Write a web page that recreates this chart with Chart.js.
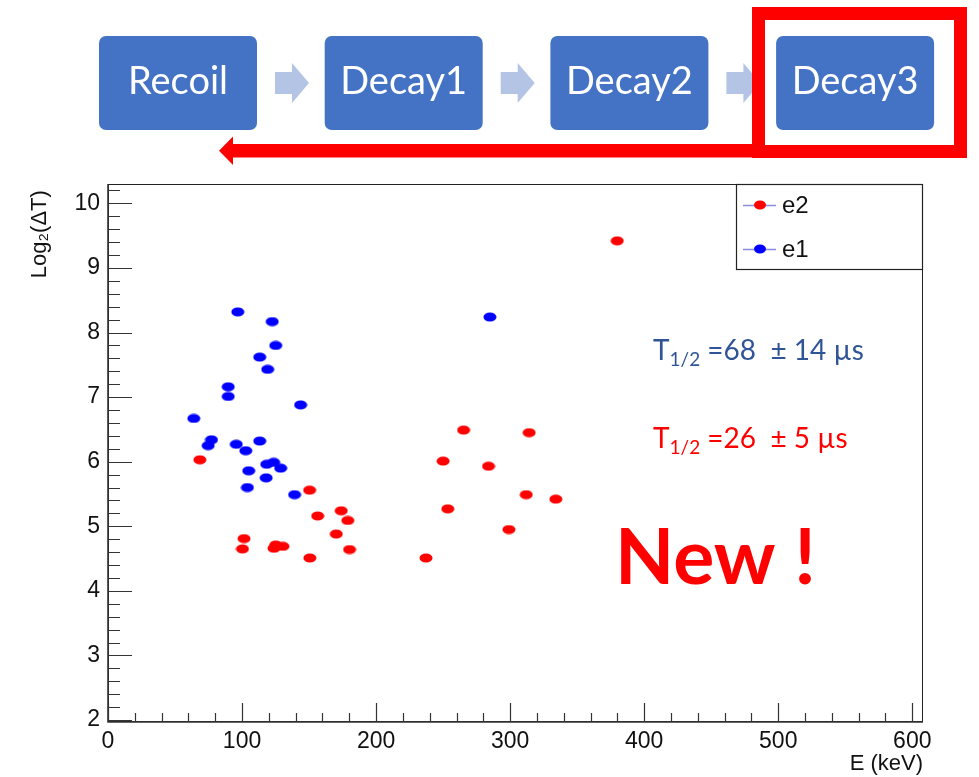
<!DOCTYPE html>
<html>
<head>
<meta charset="utf-8">
<script src="https://cdn.jsdelivr.net/npm/chart.js@4/dist/chart.umd.min.js"></script>
<style>
  html, body { margin: 0; padding: 0; background: #fff; }
  #wrap { position: relative; width: 979px; height: 777px; overflow: hidden; }
  #chart { position: absolute; left: 0; top: 0; }
  #diagram { position: absolute; left: 0; top: 0; }
</style>
</head>
<body>
<div id="wrap">
  <canvas id="chart" width="979" height="777"></canvas>
  <svg id="diagram" width="979" height="175" xmlns="http://www.w3.org/2000/svg"></svg>
</div>
<script>
// ---------------- data ----------------
const stepLabels = ['Recoil', 'Decay1', 'Decay2', 'Decay3'];

const xTicks = [0, 100, 200, 300, 400, 500, 600];
const yTicks = [2, 3, 4, 5, 6, 7, 8, 9, 10];

const e1Label = 'e1';
const e1X = [96.8, 122.5, 125.1, 113.2, 119.1, 89.7, 89.7, 143.7, 64.0, 77.2, 74.7, 95.7, 113.2, 102.8, 118.4, 123.6, 128.8, 105.0, 118.0, 104.0, 139.2, 284.9];
const e1Y = [8.32, 8.17, 7.80, 7.62, 7.43, 7.16, 7.01, 6.88, 6.67, 6.34, 6.25, 6.27, 6.32, 6.17, 5.96, 5.99, 5.90, 5.86, 5.75, 5.60, 5.49, 8.24];

const e2Label = 'e2';
const e2X = [379.9, 265.3, 314.2, 250.0, 283.9, 312.0, 334.1, 253.5, 299.1, 237.2, 68.5, 150.4, 156.4, 174.0, 178.9, 170.3, 101.5, 100.3, 125.1, 130.5, 123.8, 180.2, 150.6];
const e2Y = [9.42, 6.49, 6.45, 6.01, 5.93, 5.49, 5.42, 5.27, 4.95, 4.51, 6.03, 5.56, 5.16, 5.24, 5.09, 4.88, 4.81, 4.65, 4.71, 4.69, 4.66, 4.64, 4.51];

const halfLifeE1 = ['T', '1/2', ' =68  \u00B1 14 \u00B5s'];
const halfLifeE2 = ['T', '1/2', ' =26  \u00B1 5 \u00B5s'];
const newText = 'New !';

const xTitle = 'E (keV)';
const yTitle = 'Log\u2082(\u0394T) ';

// ---------------- diagram (SVG) ----------------
(function buildDiagram() {
  const svg = document.getElementById('diagram');
  const NS = 'http://www.w3.org/2000/svg';
  function el(name, attrs, text) {
    const e = document.createElementNS(NS, name);
    for (const k in attrs) e.setAttribute(k, attrs[k]);
    if (text !== undefined) e.textContent = text;
    svg.appendChild(e);
    return e;
  }
  const x0 = 99, step = 225.7, bw = 158, by = 36, bh = 94;
  // light arrows
  for (let i = 0; i < 3; i++) {
    const ax = x0 + bw + 18 + i * step;
    el('polygon', {
      points: [[ax, 72], [ax + 17, 72], [ax + 17, 63], [ax + 34, 83], [ax + 17, 103], [ax + 17, 94], [ax, 94]].map(p => p.join(',')).join(' '),
      fill: '#B4C4E4'
    });
  }
  stepLabels.forEach((lab, i) => {
    const bx = x0 + i * step;
    el('rect', { x: bx, y: by, width: bw, height: bh, rx: 7, ry: 7, fill: '#4472C4' });
    el('text', {
      x: bx + bw / 2, y: 94, 'text-anchor': 'middle', fill: '#fff',
      'font-family': 'Lato, "Open Sans", sans-serif', 'font-size': 38
    }, lab);
  });
  // red highlight box
  el('rect', { x: 758.5, y: 13.5, width: 202, height: 138, fill: 'none', stroke: '#FF0000', 'stroke-width': 13 });
  // red return arrow
  el('rect', { x: 232, y: 144, width: 528, height: 13.5, fill: '#FF0000' });
  el('polygon', { points: '219,150.7 233,136.5 233,165', fill: '#FF0000' });
})();

// ---------------- chart ----------------
function ellipseMarker(color, w, h) {
  const c = document.createElement('canvas');
  c.width = w; c.height = h;
  const g = c.getContext('2d');
  g.fillStyle = color;
  g.beginPath();
  g.ellipse(w / 2, h / 2, w / 2 - 0.5, h / 2 - 0.5, 0, 0, Math.PI * 2);
  g.fill();
  return c;
}

const RED = '#FF0000';
const BLUE = '#0000FF';
const redDot = ellipseMarker(RED, 14, 10);
const blueDot = ellipseMarker(BLUE, 14, 10);

const toPoints = (xs, ys) => xs.map((x, i) => ({ x: x, y: ys[i] }));

const AX_FONT = 'Liberation Sans, Arial, sans-serif';

const rootFrame = {
  id: 'rootFrame',
  beforeDatasetsDraw(chart) {
    const { ctx, chartArea: a, scales } = chart;
    const xs = scales.x, ys = scales.y;
    ctx.save();
    ctx.strokeStyle = '#222';
    ctx.lineWidth = 1;
    ctx.strokeRect(a.left + 0.5, a.top + 0.5, a.right - a.left - 1, a.bottom - a.top - 1);
    ctx.lineWidth = 1.6;
    ctx.strokeStyle = '#333';
    ctx.beginPath();
    ctx.moveTo(a.left, a.top); ctx.lineTo(a.left, a.bottom); ctx.lineTo(a.right, a.bottom);
    ctx.stroke();
    ctx.lineWidth = 1.2;
    ctx.beginPath();
    // x ticks (inward from bottom)
    for (let v = 0; v <= 600 + 1e-6; v += 20) {
      const px = Math.round(xs.getPixelForValue(v)) + 0.5;
      const major = Math.abs(v % 100) < 1e-6;
      const len = major ? 19 : 9;
      ctx.moveTo(px, a.bottom); ctx.lineTo(px, a.bottom - len);
    }
    // y ticks (inward from left)
    for (let k = 0; k <= 41; k++) {
      const v = 2 + k * 0.2;
      const py = Math.round(ys.getPixelForValue(v)) + 0.5;
      const major = k % 5 === 0;
      const len = major ? 24 : 12;
      ctx.moveTo(a.left, py); ctx.lineTo(a.left + len, py);
    }
    ctx.stroke();
    ctx.restore();
  },
  afterDraw(chart) {
    const { ctx } = chart;
    ctx.save();
    // legend box (ROOT style)
    const L = { x: 736, y: 184, w: 187, h: 86 };
    ctx.fillStyle = '#fff';
    ctx.fillRect(L.x, L.y, L.w, L.h);
    ctx.strokeStyle = '#222';
    ctx.lineWidth = 1.2;
    ctx.strokeRect(L.x + 0.5, L.y + 0.5, L.w - 1, L.h - 1);
    const entries = [chart.data.datasets[0], chart.data.datasets[1]];
    const rowsY = [205, 249];
    entries.forEach((ds, i) => {
      const y = rowsY[i];
      ctx.strokeStyle = '#8C8CE0';
      ctx.lineWidth = 1.5;
      ctx.beginPath(); ctx.moveTo(743, y + 0.5); ctx.lineTo(776, y + 0.5); ctx.stroke();
      ctx.fillStyle = ds.backgroundColor;
      ctx.beginPath(); ctx.ellipse(760, y, 6, 4.5, 0, 0, Math.PI * 2); ctx.fill();
      ctx.fillStyle = '#111';
      ctx.font = '24px ' + AX_FONT;
      ctx.textBaseline = 'middle';
      ctx.textAlign = 'left';
      ctx.fillText(ds.label, 782, y + 1);
    });
    // half-life annotations
    function subText(parts, x, y, color) {
      ctx.fillStyle = color;
      ctx.textBaseline = 'alphabetic';
      ctx.textAlign = 'left';
      ctx.font = '28px Lato, "Open Sans", sans-serif';
      ctx.fillText(parts[0], x, y);
      x += ctx.measureText(parts[0]).width;
      ctx.font = '19px Lato, "Open Sans", sans-serif';
      ctx.fillText(parts[1], x, y + 6);
      x += ctx.measureText(parts[1]).width;
      ctx.font = '28px Lato, "Open Sans", sans-serif';
      ctx.fillText(parts[2], x, y);
    }
    subText(halfLifeE1, 653, 360, '#2F5597');
    subText(halfLifeE2, 653, 448, '#FF0000');
    ctx.fillStyle = '#FF0000';
    ctx.font = 'bold 77px Lato, "Open Sans", sans-serif';
    ctx.textBaseline = 'alphabetic';
    ctx.fillText(newText, 615, 584);
    ctx.restore();
  }
};

new Chart(document.getElementById('chart'), {
  type: 'scatter',
  data: {
    datasets: [
      { label: e2Label, data: toPoints(e2X, e2Y), backgroundColor: RED, borderColor: RED, pointStyle: redDot },
      { label: e1Label, data: toPoints(e1X, e1Y), backgroundColor: BLUE, borderColor: BLUE, pointStyle: blueDot }
    ]
  },
  options: {
    responsive: false,
    animation: false,
    devicePixelRatio: 1,
    layout: { padding: { left: 0, right: 56, top: 184, bottom: 0 } },
    plugins: { legend: { display: false }, tooltip: { enabled: false } },
    scales: {
      x: {
        type: 'linear', position: 'bottom', min: 0, max: 608,
        grid: { display: false, drawTicks: false },
        border: { display: false },
        afterBuildTicks: s => { s.ticks = xTicks.map(v => ({ value: v })); },
        afterFit: s => { s.height = 55; },
        ticks: { autoSkip: false, maxRotation: 0, padding: 6, color: '#111', font: { family: AX_FONT, size: 23 }, callback: v => String(v) },
        title: { display: true, text: xTitle, align: 'end', color: '#111', font: { family: AX_FONT, size: 22 }, padding: { top: 0, bottom: 0 } }
      },
      y: {
        type: 'linear', position: 'left', min: 1.97, max: 10.3,
        grid: { display: false, drawTicks: false },
        border: { display: false },
        afterBuildTicks: s => { s.ticks = yTicks.map(v => ({ value: v })); },
        afterFit: s => { s.width = 108; },
        ticks: { autoSkip: false, padding: 8, color: '#111', font: { family: AX_FONT, size: 23 }, callback: v => String(v) },
        title: { display: true, text: yTitle, align: 'end', color: '#111', font: { family: AX_FONT, size: 22 }, padding: { top: 27, bottom: 0 } }
      }
    }
  },
  plugins: [rootFrame]
});
</script>
</body>
</html>
